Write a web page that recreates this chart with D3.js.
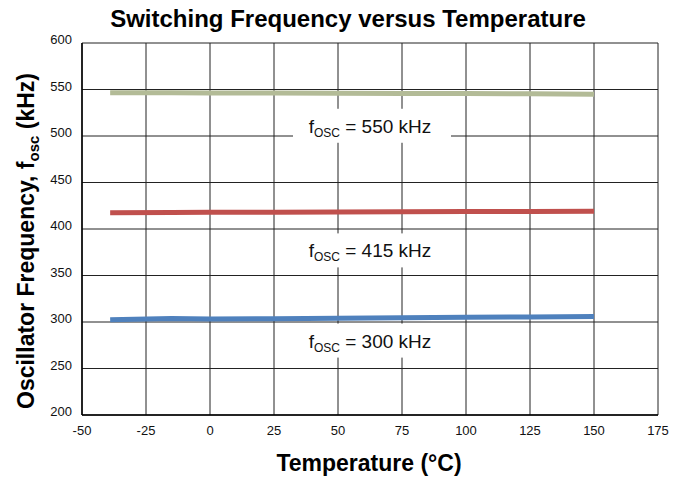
<!DOCTYPE html>
<html><head><meta charset="utf-8">
<script src="https://cdn.jsdelivr.net/npm/d3@7"></script>
<style>body{margin:0;background:#fff;} svg{display:block;}</style>
</head><body>
<svg id="c" width="691" height="478"></svg>
<script>
const temps = [-39, -15, 0, 25, 50, 75, 100, 125, 150];
const f550 = [546.5, 546.5, 546.3, 546.2, 546.0, 545.8, 545.6, 545.3, 545.0];
const f415 = [417.6, 417.8, 418.0, 418.1, 418.3, 418.5, 418.7, 418.9, 419.2];
const f300 = [302.5, 303.8, 303.2, 303.6, 304.0, 304.5, 305.0, 305.5, 306.0];
const xTicks = [-50, -25, 0, 25, 50, 75, 100, 125, 150, 175];
const yTicks = [200, 250, 300, 350, 400, 450, 500, 550, 600];
const labels = [{t: "550", y: 511}, {t: "415", y: 377}, {t: "300", y: 280}];
const series = [
  {v: f550, c: "#b3bb97"},
  {v: f415, c: "#c0504d"},
  {v: f300, c: "#4f81bd"}
];

const svg = d3.select("#c");
const L = 82, R = 658, T = 43, B = 415;
const x = d3.scaleLinear().domain([-50, 175]).range([L, R]);
const y = d3.scaleLinear().domain([200, 600]).range([B, T]);
const font = "Arial, 'Liberation Sans', sans-serif";

// grid
const g = svg.append("g");
g.selectAll(".vx").data(xTicks).join("line")
  .attr("x1", d => x(d)).attr("x2", d => x(d)).attr("y1", T).attr("y2", B)
  .attr("stroke", "#222").attr("stroke-width", 1);
g.selectAll(".hy").data(yTicks).join("line")
  .attr("x1", L).attr("x2", R).attr("y1", d => y(d)).attr("y2", d => y(d))
  .attr("stroke", "#222").attr("stroke-width", 1);
g.append("line").attr("x1", L).attr("x2", R).attr("y1", B).attr("y2", B).attr("stroke", "#000").attr("stroke-width", 1.5);
g.append("line").attr("x1", L).attr("x2", L).attr("y1", T).attr("y2", B).attr("stroke", "#000").attr("stroke-width", 1.5);

// label boxes (behind series)
labels.forEach(l => {
  const cy = y(l.y);
  svg.append("rect").attr("x", 293).attr("y", cy - 17).attr("width", 158).attr("height", 34).attr("fill", "#fff");
});

// series
const line = d3.line().x((d, i) => x(temps[i])).y(d => y(d));
series.forEach(s => {
  svg.append("path").datum(s.v).attr("d", line)
    .attr("fill", "none").attr("stroke", s.c).attr("stroke-width", 5);
});

// labels
labels.forEach(l => {
  const cy = y(l.y);
  const t = svg.append("text").attr("x", 370).attr("y", cy + 7).attr("text-anchor", "middle")
    .attr("font-family", font).attr("font-size", 19).attr("fill", "#111");
  t.append("tspan").text("f");
  t.append("tspan").attr("font-size", 12).attr("dy", 4).text("OSC");
  t.append("tspan").attr("dy", -4).text(" = " + l.t + " kHz");
});

// tick labels
svg.selectAll(".xt").data(xTicks).join("text")
  .attr("x", d => x(d)).attr("y", 435).attr("text-anchor", "middle")
  .attr("font-family", font).attr("font-size", 13).attr("fill", "#111").text(d => d);
svg.selectAll(".yt").data(yTicks).join("text")
  .attr("x", 72).attr("y", d => y(d) + 1).attr("text-anchor", "end")
  .attr("font-family", font).attr("font-size", 13).attr("fill", "#111").text(d => d);

// titles
svg.append("text").attr("x", 348).attr("y", 27).attr("text-anchor", "middle")
  .attr("font-family", font).attr("font-weight", "bold").attr("font-size", 24).attr("fill", "#000")
  .text("Switching Frequency versus Temperature");
svg.append("text").attr("x", 369).attr("y", 471).attr("text-anchor", "middle")
  .attr("font-family", font).attr("font-weight", "bold").attr("font-size", 23).attr("fill", "#000")
  .text("Temperature (°C)");
const yt = svg.append("text").attr("transform", "translate(34," + ((T + B) / 2 + 12) + ") rotate(-90)")
  .attr("text-anchor", "middle").attr("font-family", font).attr("font-weight", "bold")
  .attr("font-size", 23).attr("fill", "#000");
yt.append("tspan").text("Oscillator Frequency, f");
yt.append("tspan").attr("font-size", 15).attr("dy", 5).text("osc");
yt.append("tspan").attr("dy", -5).text(" (kHz)");
</script>
</body></html>
